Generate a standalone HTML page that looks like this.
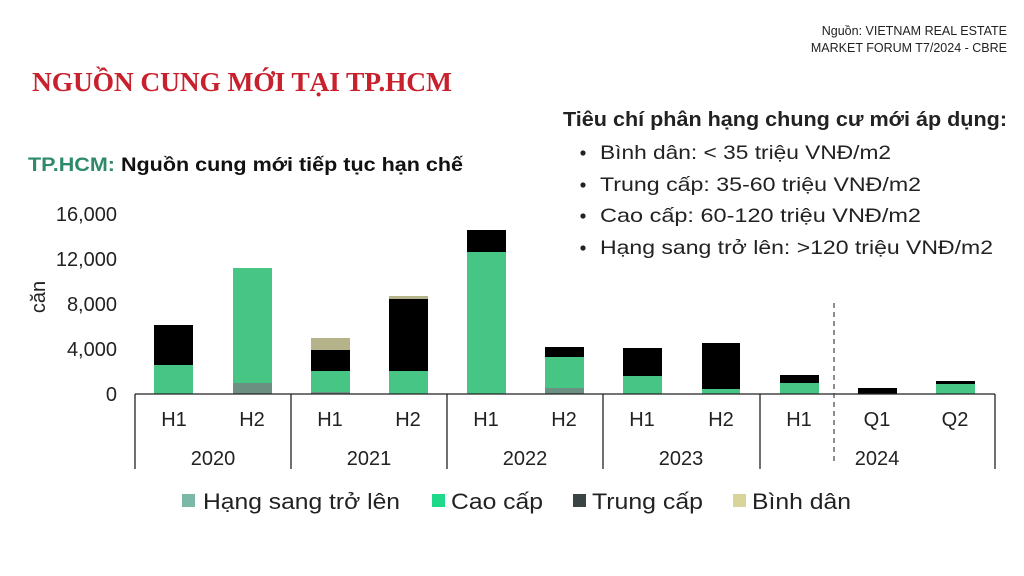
<!DOCTYPE html>
<html><head><meta charset="utf-8"><style>
body{margin:0;background:#fff;}
svg{display:block;font-family:"Liberation Sans",sans-serif;}
</style></head><body>
<svg width="1024" height="576" viewBox="0 0 1024 576" xmlns="http://www.w3.org/2000/svg">
<rect width="1024" height="576" fill="#fff"/>
<text x="1007" y="35" font-size="12.5" text-anchor="end" fill="#222">Nguồn: VIETNAM REAL ESTATE</text>
<text x="1007" y="52" font-size="12.5" text-anchor="end" fill="#222">MARKET FORUM T7/2024 - CBRE</text>
<text x="32" y="91" font-family="Liberation Serif,serif" font-weight="bold" font-size="27.5" fill="#c8202c" textLength="420">NGUỒN CUNG MỚI TẠI TP.HCM</text>
<text x="28" y="171" font-size="19" font-weight="bold" fill="#111" textLength="435" lengthAdjust="spacingAndGlyphs"><tspan fill="#2f8a6a">TP.HCM:</tspan> Nguồn cung mới tiếp tục hạn chế</text>
<text x="563" y="126" font-size="20" font-weight="bold" fill="#222" textLength="444" lengthAdjust="spacingAndGlyphs">Tiêu chí phân hạng chung cư mới áp dụng:</text>
<g font-size="19.5" fill="#222">
<circle cx="583" cy="153" r="2.6"/><text x="600" y="159" textLength="291" lengthAdjust="spacingAndGlyphs">Bình dân: &lt; 35 triệu VNĐ/m2</text>
<circle cx="583" cy="185" r="2.6"/><text x="600" y="191" textLength="321" lengthAdjust="spacingAndGlyphs">Trung cấp: 35-60 triệu VNĐ/m2</text>
<circle cx="583" cy="216" r="2.6"/><text x="600" y="222" textLength="321" lengthAdjust="spacingAndGlyphs">Cao cấp: 60-120 triệu VNĐ/m2</text>
<circle cx="583" cy="248" r="2.6"/><text x="600" y="254" textLength="393" lengthAdjust="spacingAndGlyphs">Hạng sang trở lên: &gt;120 triệu VNĐ/m2</text>
</g>
<g font-size="20" fill="#222" text-anchor="end">
<text x="117" y="221">16,000</text>
<text x="117" y="266">12,000</text>
<text x="117" y="311">8,000</text>
<text x="117" y="356">4,000</text>
<text x="117" y="401">0</text>
</g>
<text transform="translate(45,297) rotate(-90)" font-size="20" fill="#222" text-anchor="middle">căn</text>
<g>
<rect x="154" y="325" width="39" height="40" fill="#000"/><rect x="154" y="365" width="39" height="29" fill="#47c584"/>
<rect x="233" y="268" width="39" height="115" fill="#47c584"/><rect x="233" y="383" width="39" height="11" fill="#6b8f80"/>
<rect x="311" y="338" width="39" height="12" fill="#b5b38a"/><rect x="311" y="350" width="39" height="21" fill="#000"/><rect x="311" y="371" width="39" height="21" fill="#47c584"/><rect x="311" y="392" width="39" height="2" fill="#6b8f80"/>
<rect x="389" y="296" width="39" height="3" fill="#b5b38a"/><rect x="389" y="299" width="39" height="72" fill="#000"/><rect x="389" y="371" width="39" height="23" fill="#47c584"/>
<rect x="467" y="230" width="39" height="22" fill="#000"/><rect x="467" y="252" width="39" height="142" fill="#47c584"/>
<rect x="545" y="347" width="39" height="10" fill="#000"/><rect x="545" y="357" width="39" height="31" fill="#47c584"/><rect x="545" y="388" width="39" height="6" fill="#6b8f80"/>
<rect x="623" y="348" width="39" height="28" fill="#000"/><rect x="623" y="376" width="39" height="18" fill="#47c584"/>
<rect x="702" y="343" width="38" height="46" fill="#000"/><rect x="702" y="389" width="38" height="5" fill="#47c584"/>
<rect x="780" y="375" width="39" height="8" fill="#000"/><rect x="780" y="383" width="39" height="11" fill="#47c584"/>
<rect x="858" y="388" width="39" height="6" fill="#000"/>
<rect x="936" y="381" width="39" height="3" fill="#000"/><rect x="936" y="384" width="39" height="10" fill="#47c584"/>
</g>
<g stroke="#222" stroke-width="1.3">
<line x1="135" y1="394" x2="995" y2="394"/>
<line x1="135" y1="394" x2="135" y2="469"/>
<line x1="291" y1="394" x2="291" y2="469"/>
<line x1="447" y1="394" x2="447" y2="469"/>
<line x1="603" y1="394" x2="603" y2="469"/>
<line x1="760" y1="394" x2="760" y2="469"/>
<line x1="995" y1="394" x2="995" y2="469"/>
</g>
<line x1="834" y1="303" x2="834" y2="465" stroke="#444" stroke-width="1.2" stroke-dasharray="5,4"/>
<g font-size="20" fill="#222" text-anchor="middle">
<text x="174" y="426">H1</text><text x="252" y="426">H2</text>
<text x="330" y="426">H1</text><text x="408" y="426">H2</text>
<text x="486" y="426">H1</text><text x="564" y="426">H2</text>
<text x="642" y="426">H1</text><text x="721" y="426">H2</text>
<text x="799" y="426">H1</text><text x="877" y="426">Q1</text><text x="955" y="426">Q2</text>
<text x="213" y="465">2020</text><text x="369" y="465">2021</text>
<text x="525" y="465">2022</text><text x="681" y="465">2023</text><text x="877" y="465">2024</text>
</g>
<g font-size="22" fill="#222">
<rect x="182" y="494" width="13" height="13" fill="#7bb8a8"/><text x="203" y="509" textLength="197" lengthAdjust="spacingAndGlyphs">Hạng sang trở lên</text>
<rect x="432" y="494" width="13" height="13" fill="#1fd98a"/><text x="451" y="509" textLength="92" lengthAdjust="spacingAndGlyphs">Cao cấp</text>
<rect x="573" y="494" width="13" height="13" fill="#3a4444"/><text x="592" y="509" textLength="111" lengthAdjust="spacingAndGlyphs">Trung cấp</text>
<rect x="733" y="494" width="13" height="13" fill="#d8d49a"/><text x="752" y="509" textLength="99" lengthAdjust="spacingAndGlyphs">Bình dân</text>
</g>
</svg>
</body></html>
